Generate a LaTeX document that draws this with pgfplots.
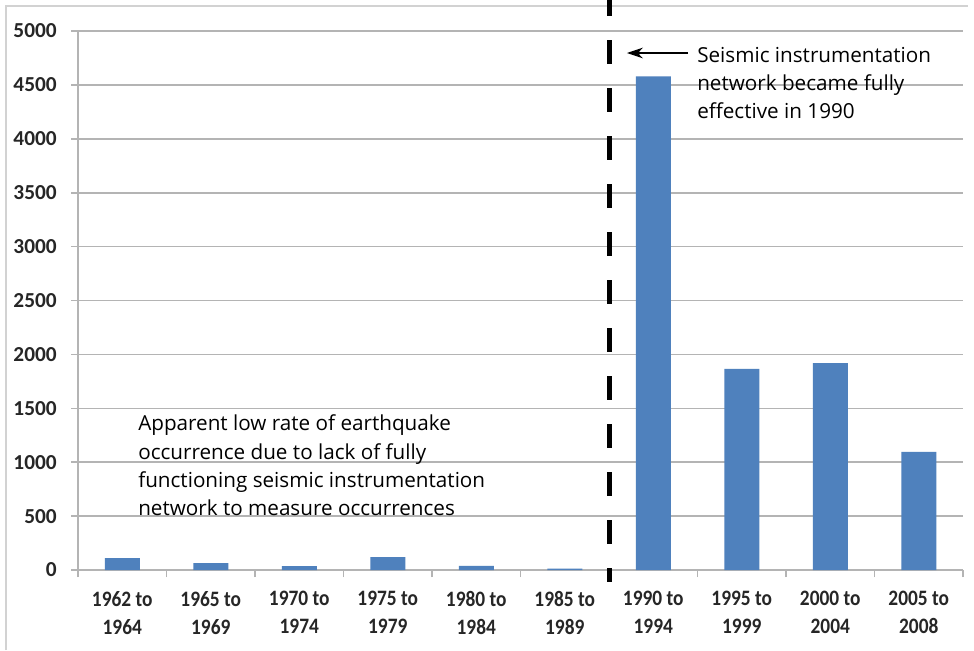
\documentclass[border=0pt]{standalone}
\usepackage{pgfplots}
\pgfplotsset{compat=1.18}
\usetikzlibrary{arrows.meta}
\usepackage{fontspec}
\setmainfont{Carlito}
\newfontfamily\xtickfont[FakeStretch=0.88]{Carlito}
\newfontfamily\annot{Open Sans}
\definecolor{barblue}{HTML}{4F81BD}
\definecolor{gridgray}{HTML}{B4B4B4}
\begin{document}
\begin{tikzpicture}
\useasboundingbox (0,0) rectangle (730.5pt,-487.5pt);
\fill[white] (0,0) rectangle (730.5pt,-487.5pt);
\draw[gray!35, line width=1.5pt] (4.125pt,-487.5pt) -- (4.125pt,-4.125pt) -- (726pt,-4.125pt);
\begin{axis}[
  at={(58.5pt,-427.5pt)}, anchor=south west,
  scale only axis, width=663.75pt, height=404.25pt,
  ybar, bar width=26.25pt,
  xmin=-0.5, xmax=9.5, ymin=0, ymax=5000,
  ytick={0,500,...,5000},
  xtick={0,...,9},
  xticklabels={{1962 to\\1964},{1965 to\\1969},{1970 to\\1974},{1975 to\\1979},{1980 to\\1984},{1985 to\\1989},{1990 to\\1994},{1995 to\\1999},{2000 to\\2004},{2005 to\\2008}},
  minor xtick={-0.5,0.5,...,9.5},
  axis x line*=bottom, axis y line*=left,
  tick align=outside,
  ymajorgrids, grid style={gridgray, line width=1.2pt},
  axis line style={gridgray, line width=1.2pt},
  major x tick style={draw=none},
  minor x tick style={gridgray, line width=1.2pt},
  ytick style={gridgray, line width=1.2pt},
  major tick length=5.25pt, minor tick length=5.25pt,
  xticklabel style={font=\xtickfont\fontsize{16.5}{21}\selectfont\bfseries, text=black!85, align=center, yshift=-7pt},
  yticklabel style={font=\fontsize{16}{19}\selectfont\bfseries, text=black!85, anchor=east, inner sep=0pt, xshift=-10.5pt},
  scaled y ticks=false,
  /pgf/number format/1000 sep={},
  /pgf/number format/assume math mode=true,
  clip=false,
]
\addplot[fill=barblue, draw=none] coordinates {(0,110) (1,65) (2,37) (3,120) (4,38) (5,12) (6,4580) (7,1865) (8,1920) (9,1095)};
\draw[black, line width=3.75pt, dash pattern=on 18pt off 18pt, dash phase=6pt] (axis cs:5.5,5287.6) -- (axis cs:5.5,-111.3);
\draw[-{Stealth[length=12pt,width=8pt]}, line width=1.3pt] (axis cs:6.393,4796) -- (axis cs:5.703,4796);
\end{axis}
\begin{scope}[every node/.style={anchor=base west, inner sep=0pt, font=\annot\fontsize{15.5}{21}\selectfont}]
\node at (522.75pt,-46.5pt) {Seismic instrumentation};
\node at (522.75pt,-67.5pt) {network became fully};
\node at (522.75pt,-88.5pt) {effective in 1990};
\node at (103.5pt,-322.5pt) {Apparent low rate of earthquake};
\node at (103.5pt,-344.25pt) {occurrence due to lack of fully};
\node at (103.5pt,-365.6pt) {functioning seismic instrumentation};
\node at (103.5pt,-386.25pt) {network to measure occurrences};
\end{scope}
\end{tikzpicture}
\end{document}
